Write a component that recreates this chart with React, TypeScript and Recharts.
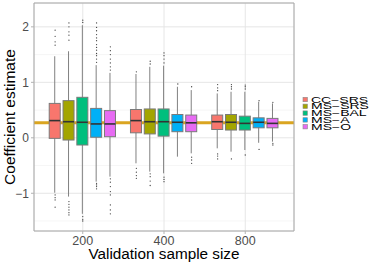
import {
  ComposedChart,
  Bar,
  Scatter,
  XAxis,
  YAxis,
  CartesianGrid,
  ReferenceArea,
  Legend,
} from 'recharts';

const sampleSizes = ['200', '400', '800'];
const methods = ['CC−SRS', 'MS−SRS', 'MS−BAL', 'MS−A', 'MS−O'];
const methodColors = ['#F8766D', '#A3A500', '#00BF7D', '#00B0F6', '#E76BF3'];

// one row per sample size, one column per method
const lowerWhisker = [
  [-0.99, -1.06, -1.37, -0.79, -0.7],
  [-0.46, -0.61, -0.64, -0.34, -0.28],
  [-0.19, -0.25, -0.22, -0.09, -0.07],
];
const firstQuartile = [
  [-0.01, -0.04, -0.13, 0.01, 0.02],
  [0.09, 0.07, 0.03, 0.11, 0.11],
  [0.15, 0.14, 0.14, 0.18, 0.18],
];
const medians = [
  [0.31, 0.29, 0.28, 0.25, 0.25],
  [0.31, 0.29, 0.29, 0.28, 0.27],
  [0.29, 0.28, 0.26, 0.28, 0.26],
];
const thirdQuartile = [
  [0.62, 0.67, 0.73, 0.53, 0.49],
  [0.51, 0.52, 0.52, 0.42, 0.41],
  [0.41, 0.42, 0.39, 0.36, 0.35],
];
const upperWhisker = [
  [1.47, 1.56, 2.03, 1.31, 1.17],
  [1.15, 1.28, 1.3, 0.92, 0.86],
  [0.8, 0.83, 0.83, 0.65, 0.62],
];
const outliers = [
  [
    [1.67, 1.73, 1.83, 1.94, -1.03, -1.08, -1.12, -1.25],
    [1.76, 1.85, 1.91, 2.0, 2.07, -1.15, -1.2, -1.25, -1.3, -1.35, -1.39],
    [2.08, 2.12, -1.42, -1.47, -1.5],
    [1.36, 1.42, 1.48, 1.52, 1.58, 1.63, 1.68, 1.75, 1.8, 1.86, 1.93, 1.99, 2.07, -0.82, -0.85, -0.88, -0.92],
    [1.22, 1.28, 1.35, 1.42, 1.5, 1.57, 1.64, -0.74, -0.8, -0.88, -0.97, -1.03, -1.21, -1.3, -1.37],
  ],
  [
    [1.19, -0.55, -0.62, -0.68, -0.73],
    [1.33, 1.38, -0.65, -0.7, -0.78, -0.86],
    [1.35, 1.42, 1.48, 1.53, -0.71, -0.75, -0.79],
    [0.97],
    [0.92, -0.35, -0.4, -0.46],
  ],
  [
    [0.85, 0.9, 0.96, -0.29, -0.33, -0.38],
    [0.88, 0.92, 0.96, -0.38],
    [0.88, 0.92, 0.95, -0.31],
    [0.67, -0.21],
    [0.64, -0.1, -0.13],
  ],
];
const trueCoefficient = 0.27;

const yTicks = [-1, 0, 1, 2];
const yMinor = [-1.5, -0.5, 0.5, 1.5];
const yDomain = [-1.68, 2.43];
const xDomain = [0.4, 3.6];
const dodge = 0.17;

const font = '"Liberation Sans", Arial, sans-serif';

const boxes = sampleSizes.flatMap((_, g) =>
  methods.map((_, m) => ({
    x: g + 1 + (m - 2) * dodge,
    method: m,
    range: [lowerWhisker[g][m], upperWhisker[g][m]],
    lo: lowerWhisker[g][m],
    q1: firstQuartile[g][m],
    median: medians[g][m],
    q3: thirdQuartile[g][m],
    hi: upperWhisker[g][m],
  }))
);

const outlierPoints = sampleSizes.flatMap((_, g) =>
  methods.flatMap((_, m) =>
    outliers[g][m].map((v) => ({ x: g + 1 + (m - 2) * dodge, y: v }))
  )
);

function BoxShape(props: any) {
  const { x, y, width, height, payload } = props;
  const top = Math.min(y, y + height);
  const h = Math.abs(height);
  const toY = (v: number) => top + ((payload.hi - v) / (payload.hi - payload.lo)) * h;
  const cx = x + width / 2;
  const yq3 = toY(payload.q3);
  const yq1 = toY(payload.q1);
  const ymed = toY(payload.median);
  return (
    <g>
      <line x1={cx} x2={cx} y1={top} y2={top + h} stroke="#808080" strokeWidth={1} />
      <rect
        x={x}
        y={yq3}
        width={width}
        height={yq1 - yq3}
        fill={methodColors[payload.method]}
        stroke="#7a7a7a"
        strokeWidth={1}
      />
      <line x1={x} x2={x + width} y1={ymed} y2={ymed} stroke="#333" strokeWidth={1.6} />
    </g>
  );
}

function OutlierDot(props: any) {
  return <circle cx={props.cx} cy={props.cy} r={0.65} fill="#444" />;
}

function MethodLegend() {
  return (
    <svg width={78} height={40}>
      {methods.map((name, i) => {
        const cy = 5.5 + i * 6.8;
        return (
          <g key={name}>
            <rect
              x={7}
              y={cy - 2.2}
              width={4.4}
              height={4.4}
              fill={methodColors[i]}
              stroke="#8a8a8a"
              strokeWidth={0.6}
            />
            <text
              transform={`translate(15, ${cy + 3}) scale(1, 0.6)`}
              fontSize={14}
              fontFamily={font}
              fill="#000"
            >
              {name}
            </text>
          </g>
        );
      })}
    </svg>
  );
}

export default function App() {
  return (
    <div
      style={{
        position: 'absolute',
        left: 0,
        top: 0,
        width: 374,
        height: 262,
        background: '#fff',
        fontFamily: font,
      }}
    >
      <ComposedChart
        width={374}
        height={262}
        data={boxes}
        margin={{ top: 3, right: 80, bottom: 0, left: 0 }}
      >
        <CartesianGrid
          horizontalValues={yMinor}
          vertical={false}
          stroke="#F0F0F0"
          strokeWidth={0.6}
        />
        <CartesianGrid stroke="#E3E3E3" strokeWidth={0.9} />
        {/* true coefficient, kept behind the boxes */}
        <CartesianGrid
          horizontalValues={[trueCoefficient]}
          vertical={false}
          stroke="#DAA520"
          strokeWidth={3}
        />
        <XAxis
          type="number"
          dataKey="x"
          domain={xDomain}
          ticks={[1, 2, 3]}
          allowDataOverflow
          height={31}
          tickSize={3}
          axisLine={false}
          tickLine={{ stroke: '#B3B3B3' }}
          tick={{ fill: '#4D4D4D', fontSize: 12.5, fontFamily: font }}
          tickFormatter={(v: number) => sampleSizes[v - 1]}
          label={{
            value: 'Validation sample size',
            position: 'insideBottom',
            offset: 3,
            fill: '#000',
            fontSize: 15.3,
            fontFamily: font,
          }}
        />
        <YAxis
          type="number"
          domain={yDomain}
          ticks={yTicks}
          allowDataOverflow
          width={34}
          tickSize={3}
          axisLine={false}
          tickLine={{ stroke: '#B3B3B3' }}
          tick={{ fill: '#4D4D4D', fontSize: 12, fontFamily: font }}
          tickFormatter={(v: number) => String(v).replace('-', '−')}
          label={{
            value: 'Coefficient estimate',
            angle: -90,
            position: 'insideLeft',
            offset: 9,
            fill: '#000',
            fontSize: 15.5,
            fontFamily: font,
            style: { textAnchor: 'middle' },
          }}
        />
        <Bar dataKey="range" barSize={11} shape={BoxShape} isAnimationActive={false} />
        <Scatter
          data={outlierPoints}
          dataKey="y"
          shape={OutlierDot}
          isAnimationActive={false}
        />
        <ReferenceArea
          x1={xDomain[0]}
          x2={xDomain[1]}
          y1={yDomain[0]}
          y2={yDomain[1]}
          fill="none"
          fillOpacity={0}
          stroke="#A8A8A8"
          strokeWidth={1}
        />
        <Legend
          layout="horizontal"
          align="center"
          verticalAlign="middle"
          wrapperStyle={{ left: 296, top: 94, width: 78, height: 40 }}
          content={() => <MethodLegend />}
        />
      </ComposedChart>
    </div>
  );
}
